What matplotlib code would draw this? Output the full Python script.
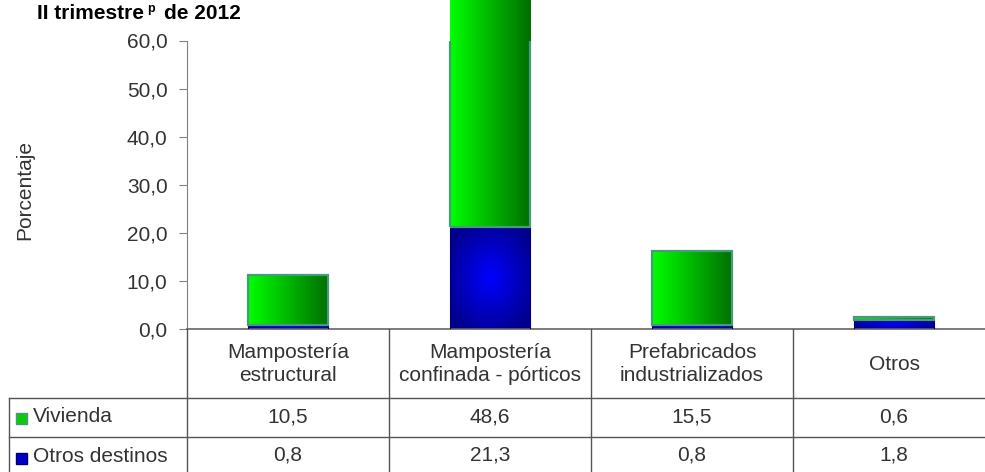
import matplotlib.pyplot as plt
import numpy as np
from matplotlib.patches import Rectangle
from matplotlib.lines import Line2D
from matplotlib.transforms import blended_transform_factory, offset_copy

plt.rcParams['font.family'] = ['Liberation Sans', 'DejaVu Sans']

# data
categories = ["Mampostería\nestructural", "Mampostería\nconfinada - pórticos",
              "Prefabricados\nindustrializados", "Otros"]
vivienda = [10.5, 48.6, 15.5, 0.6]
otros_destinos = [0.8, 21.3, 0.8, 1.8]
series_names = ["Vivienda", "Otros destinos"]
yticks = [0, 10, 20, 30, 40, 50, 60]

W, H = 985, 472
fig = plt.figure(figsize=(W / 100, H / 100), dpi=100)


def fx(px):
    return px / W


def fy(py):
    return 1 - py / H


txt = '#333333'
fs = 15

ax = fig.add_axes([fx(187), fy(329), fx(995 - 187), fy(40.5) - fy(329)])
x = np.arange(len(categories))

# gradients
g = np.linspace(0, 1, 256)
green_grad = np.zeros((2, 256, 3))
green_grad[:, :, 1] = 1.0 - 0.57 * g
u, v = np.meshgrid(np.linspace(-1, 1, 120), np.linspace(-1, 1, 120))
d = np.clip(np.sqrt(u ** 2 + v ** 2) / 1.2, 0, 1)
blue_grad = np.zeros((120, 120, 3))
blue_grad[:, :, 2] = 1.0 - 0.45 * d

blue_bars = ax.bar(x, otros_destinos, width=0.4, color='none',
                   edgecolor='#000070', linewidth=0.8, zorder=3)
green_bars = ax.bar(x, vivienda, bottom=otros_destinos, width=0.4, color='none',
                    edgecolor='#449c7c', linewidth=1.6, zorder=3)

for bars, grad in [(blue_bars, blue_grad), (green_bars, green_grad)]:
    for r in bars:
        x0, y0 = r.get_x(), r.get_y()
        im = ax.imshow(grad, extent=(x0, x0 + r.get_width(), y0, y0 + r.get_height()),
                       aspect='auto', interpolation='bilinear', zorder=1)
        im.set_clip_path(r)

ax.set_xlim(-0.5, 3.5)
ax.set_ylim(0, 60)
ax.set_xticks([])
ax.set_yticks(yticks)
ax.set_yticklabels([f"{t:.1f}".replace('.', ',') for t in yticks], fontsize=fs, color=txt)
ax.tick_params(axis='y', length=6, color='#808080', pad=8)
for s in ['top', 'right']:
    ax.spines[s].set_visible(False)
ax.spines['left'].set_color('#808080')
ax.spines['bottom'].set_color('#666666')
ax.spines['bottom'].set_linewidth(1.2)

# table below
tr = blended_transform_factory(ax.transData, fig.transFigure)
lc = '#555555'
for b in np.arange(-0.5, 4, 1.0):
    fig.add_artist(Line2D([b, b], [fy(329), 0], transform=tr, color=lc, lw=1))
fig.add_artist(Line2D([fx(9), fx(9)], [fy(398), 0], transform=fig.transFigure, color=lc, lw=1))
for py in [398, 437]:
    fig.add_artist(Line2D([fx(9), 1], [fy(py), fy(py)], transform=fig.transFigure, color=lc, lw=1))

for i, c in enumerate(categories):
    fig.text(i, fy(364), c, transform=tr, ha='center', va='center', fontsize=fs,
             color=txt, multialignment='center', linespacing=1.25)
    fig.text(i, fy(417), f"{vivienda[i]:.1f}".replace('.', ','), transform=tr,
             ha='center', va='center', fontsize=fs, color=txt)
    fig.text(i, fy(455), f"{otros_destinos[i]:.1f}".replace('.', ','), transform=tr,
             ha='center', va='center', fontsize=fs, color=txt)

sw_colors = [('#10c810', '#449c7c'), ('#0000c8', '#000070')]
for name, py, (fc, ec) in zip(series_names, [418, 458], sw_colors):
    fig.add_artist(Rectangle((fx(16), fy(py + 6)), fx(11), fy(py - 5) - fy(py + 6),
                             transform=fig.transFigure, facecolor=fc, edgecolor=ec, lw=1))
    fig.text(fx(33), fy(py - 1), name, ha='left', va='center', fontsize=fs, color=txt)

fig.text(fx(25), fy(190), "Porcentaje", rotation=90, ha='center', va='center',
         fontsize=fs, color=txt)

# title with superscript p
rend = fig.canvas.get_renderer()
t1 = fig.text(fx(37), fy(19), "II trimestre", ha='left', va='baseline',
              fontsize=15, fontweight='bold', color='black')
ext = t1.get_window_extent(rend)
fig.text(ext.x1 + 3, ext.y0 + 11, "p", transform=None, ha='left', va='baseline',
         fontsize=9, fontweight='bold', color='black')
fig.text(ext.x1 + 20, fig.bbox.height * fy(19), "de 2012", transform=None, ha='left',
         va='baseline', fontsize=15, fontweight='bold', color='black')

fig.savefig('out.png', dpi=100)
